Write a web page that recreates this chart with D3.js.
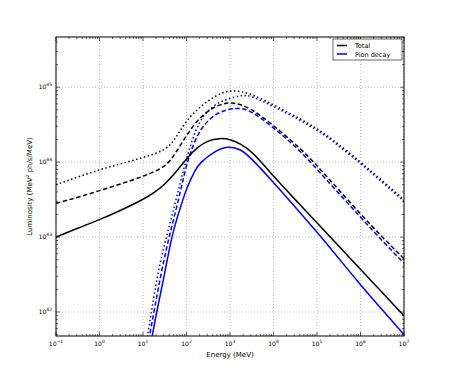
<!DOCTYPE html>
<html>
<head>
<meta charset="utf-8">
<script src="https://cdn.jsdelivr.net/npm/d3@7"></script>
<style>
  body { margin: 0; background: #fff; }
  text { font-family: "DejaVu Sans", sans-serif; }
</style>
</head>
<body>
<div id="chart"></div>
<script>
// values, log10 of energy (MeV) and luminosity
var totalSolidLogE = [-1, -0.5, 0, 0.5, 1, 1.25, 1.5, 1.75, 2, 2.25, 2.5, 2.75, 3, 3.25, 3.5, 4, 4.5, 5, 5.5, 6, 6.5, 7];
var totalSolidLogL = [43.00, 43.12, 43.23, 43.36, 43.50, 43.59, 43.70, 43.86, 44.05, 44.20, 44.29, 44.32, 44.31, 44.24, 44.15, 43.81, 43.50, 43.19, 42.88, 42.57, 42.26, 41.95];

var pionSolidLogE = [1.12, 1.21, 1.31, 1.47, 1.66, 1.77, 1.89, 2.0, 2.2, 2.31, 2.62, 2.96, 3.25, 3.46, 4, 4.5, 5.02, 5.3, 6, 6.5, 7];
var pionSolidLogL = [41.40, 41.67, 41.99, 42.43, 43.01, 43.23, 43.45, 43.65, 43.90, 43.99, 44.14, 44.22, 44.17, 44.07, 43.73, 43.40, 43.05, 42.86, 42.36, 42.03, 41.70];

var totalDashLogE = [-1, -0.5, 0, 0.5, 1, 1.25, 1.54, 1.75, 2, 2.31, 2.69, 3.04, 3.46, 4, 4.61, 5.02, 5.3, 6.01, 6.5, 7];
var totalDashLogL = [43.45, 43.53, 43.62, 43.71, 43.81, 43.87, 43.95, 44.12, 44.36, 44.61, 44.76, 44.81, 44.73, 44.49, 44.19, 43.94, 43.76, 43.30, 43.00, 42.71];

var pionDashLogE = [1.05, 1.15, 1.26, 1.43, 1.60, 1.80, 1.97, 2.1, 2.31, 2.69, 3.15, 3.46, 4, 4.61, 5.3, 6.01, 6.5, 7];
var pionDashLogL = [41.35, 41.68, 42.03, 42.56, 43.01, 43.45, 43.90, 44.15, 44.45, 44.67, 44.73, 44.70, 44.46, 44.16, 43.71, 43.26, 42.95, 42.65];

var totalDotLogE = [-1, -0.5, 0, 0.5, 1, 1.54, 1.75, 2, 2.31, 2.69, 3.04, 3.46, 4.02, 4.61, 5.02, 5.3, 6.01, 6.5, 7];
var totalDotLogL = [43.70, 43.80, 43.90, 43.98, 44.06, 44.16, 44.32, 44.56, 44.74, 44.90, 44.97, 44.92, 44.76, 44.58, 44.44, 44.33, 44.00, 43.75, 43.50];

var pionDotLogE = [1.0, 1.11, 1.20, 1.35, 1.54, 1.74, 1.93, 2.1, 2.31, 2.69, 3.31, 3.46, 4.02, 4.61, 5.02, 5.3, 6.01, 6.5, 7];
var pionDotLogL = [41.35, 41.70, 42.03, 42.56, 43.01, 43.45, 43.90, 44.25, 44.58, 44.81, 44.90, 44.89, 44.74, 44.56, 44.42, 44.31, 43.98, 43.73, 43.48];

var xTickExp = [-1, 0, 1, 2, 3, 4, 5, 6, 7];
var yTickExp = [42, 43, 44, 45];
var legendLabels = ["Total", "Pion decay"];

var svgWidth = 450;
var svgHeight = 375;
var margin = { top: 37, right: 46, bottom: 39, left: 56 };
var width = svgWidth - margin.left - margin.right;
var height = svgHeight - margin.top - margin.bottom;

var svg = d3.select("#chart").append("svg")
    .attr("width", svgWidth)
    .attr("height", svgHeight);

var chartGroup = svg.append("g")
    .attr("transform", `translate(${margin.left}, ${margin.top})`);

var xScale = d3.scaleLog()
    .domain([1e-1, 1e7])
    .range([0, width]);

var yScale = d3.scaleLog()
    .domain([Math.pow(10, 41.68), Math.pow(10, 45.67)])
    .range([height, 0]);

chartGroup.append("clipPath").attr("id", "plotclip")
    .append("rect").attr("width", width).attr("height", height);

// grid
xTickExp.forEach(function (e) {
    chartGroup.append("line")
        .attr("x1", xScale(Math.pow(10, e))).attr("x2", xScale(Math.pow(10, e)))
        .attr("y1", 0).attr("y2", height)
        .attr("stroke", "#999").attr("stroke-width", 0.6)
        .attr("stroke-dasharray", "1,2");
});
yTickExp.forEach(function (e) {
    chartGroup.append("line")
        .attr("x1", 0).attr("x2", width)
        .attr("y1", yScale(Math.pow(10, e))).attr("y2", yScale(Math.pow(10, e)))
        .attr("stroke", "#999").attr("stroke-width", 0.6)
        .attr("stroke-dasharray", "1,2");
});

// curves
var line = d3.line()
    .x(d => xScale(Math.pow(10, d[0])))
    .y(d => yScale(Math.pow(10, d[1])))
    .curve(d3.curveBasis);

var series = [
    { e: totalDotLogE, l: totalDotLogL, color: "#000", dash: "1.5,2.5" },
    { e: pionDotLogE, l: pionDotLogL, color: "#0000ff", dash: "1.5,2.5" },
    { e: totalDashLogE, l: totalDashLogL, color: "#000", dash: "4.5,2.5" },
    { e: pionDashLogE, l: pionDashLogL, color: "#0000ff", dash: "4.5,2.5" },
    { e: totalSolidLogE, l: totalSolidLogL, color: "#000", dash: null },
    { e: pionSolidLogE, l: pionSolidLogL, color: "#0000ff", dash: null }
];

var curves = chartGroup.append("g").attr("clip-path", "url(#plotclip)");
series.forEach(function (s) {
    curves.append("path")
        .datum(d3.zip(s.e, s.l))
        .attr("d", line)
        .attr("fill", "none")
        .attr("stroke", s.color)
        .attr("stroke-width", 1.5)
        .attr("stroke-dasharray", s.dash);
});

// ticks on all sides, pointing inwards
var xMinor = [], yMinor = [];
for (var k = -1; k < 7; k++) for (var m = 2; m < 10; m++) xMinor.push(m * Math.pow(10, k));
for (var k = 41; k < 46; k++) for (var m = 2; m < 10; m++) {
    var v = m * Math.pow(10, k);
    if (v > yScale.domain()[0] && v < yScale.domain()[1]) yMinor.push(v);
}

var tickG = chartGroup.append("g").attr("stroke", "#000").attr("stroke-width", 0.6);
function xTick(v, len) {
    var x = xScale(v);
    tickG.append("line").attr("x1", x).attr("x2", x).attr("y1", height).attr("y2", height - len);
    tickG.append("line").attr("x1", x).attr("x2", x).attr("y1", 0).attr("y2", len);
}
function yTick(v, len) {
    var y = yScale(v);
    tickG.append("line").attr("x1", 0).attr("x2", len).attr("y1", y).attr("y2", y);
    tickG.append("line").attr("x1", width).attr("x2", width - len).attr("y1", y).attr("y2", y);
}
xTickExp.forEach(e => xTick(Math.pow(10, e), 4));
xMinor.forEach(v => xTick(v, 2));
yTickExp.forEach(e => yTick(Math.pow(10, e), 4));
yMinor.forEach(v => yTick(v, 2));

// frame
chartGroup.append("rect")
    .attr("width", width).attr("height", height)
    .attr("fill", "none").attr("stroke", "#000").attr("stroke-width", 1);

// tick labels
function powLabel(sel, e) {
    sel.append("tspan").text("10");
    sel.append("tspan").attr("dy", -3).attr("font-size", 4.5).text(e < 0 ? "\u2212" + Math.abs(e) : e);
}
xTickExp.forEach(function (e) {
    var t = chartGroup.append("text")
        .attr("x", xScale(Math.pow(10, e)))
        .attr("y", height + 10)
        .attr("text-anchor", "middle")
        .attr("font-size", 6)
        .attr("fill", "#000");
    powLabel(t, e);
});
yTickExp.forEach(function (e) {
    var t = chartGroup.append("text")
        .attr("x", -4)
        .attr("y", yScale(Math.pow(10, e)) + 2)
        .attr("text-anchor", "end")
        .attr("font-size", 6)
        .attr("fill", "#000");
    powLabel(t, e);
});

// axis labels
chartGroup.append("text")
    .attr("x", width / 2)
    .attr("y", height + 21)
    .attr("text-anchor", "middle")
    .attr("font-size", 7)
    .text("Energy (MeV)");

var yl = chartGroup.append("text")
    .attr("transform", `translate(-24, ${height / 2}) rotate(-90)`)
    .attr("text-anchor", "middle")
    .attr("font-size", 7);
yl.append("tspan").text("Luminosity (MeV");
yl.append("tspan").attr("dy", -3).attr("font-size", 4.5).text("2");
yl.append("tspan").attr("dy", 3).text(" ph/s/MeV)");

// legend
var legend = chartGroup.append("g")
    .attr("transform", `translate(${width - 71}, 2)`);
legend.append("rect")
    .attr("width", 69).attr("height", 21)
    .attr("fill", "#fff").attr("stroke", "#000").attr("stroke-width", 0.6);
legendLabels.forEach(function (name, i) {
    legend.append("line")
        .attr("x1", 4).attr("x2", 14)
        .attr("y1", 6.5 + i * 8.5).attr("y2", 6.5 + i * 8.5)
        .attr("stroke", i === 0 ? "#000" : "#0000ff")
        .attr("stroke-width", 1.5);
    legend.append("text")
        .attr("x", 22)
        .attr("y", 9 + i * 8.5)
        .attr("font-size", 6.5)
        .text(name);
});
</script>
</body>
</html>
